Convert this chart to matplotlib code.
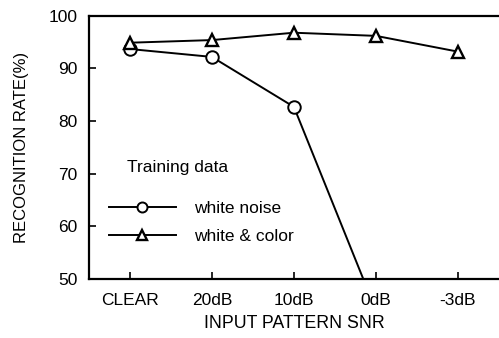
import matplotlib
matplotlib.use("Agg")
import matplotlib.pyplot as plt

plt.rcParams['font.family'] = ['Liberation Sans', 'DejaVu Sans']

snr_labels = ["CLEAR", "20dB", "10dB", "0dB", "-3dB"]
white_noise = [93.7, 92.2, 82.7, 44.0]
white_color = [94.9, 95.4, 96.8, 96.2, 93.2]
yticks = [50, 60, 70, 80, 90, 100]

fig = plt.figure(figsize=(4.99, 3.38), dpi=100)
ax = fig.add_axes([0.178, 0.175, 0.822, 0.778])

ax.plot(range(len(white_noise)), white_noise, color="black", lw=1.4,
        marker="o", ms=9, mfc="white", mec="black", mew=1.4, label="white noise")
ax.plot(range(len(white_color)), white_color, color="black", lw=1.4,
        marker="^", ms=9, mfc="white", mec="black", mew=1.7, label="white & color")

ax.set_xlim(-0.5, 4.5)
ax.set_ylim(50, 100)
ax.set_xticks(range(len(snr_labels)))
ax.set_xticklabels(snr_labels)
ax.set_yticks(yticks)

for s in ["left", "bottom", "top"]:
    ax.spines[s].set_linewidth(1.6)
ax.spines["right"].set_visible(False)
ax.tick_params(direction="in", length=5, width=1.2, labelsize=12.5, top=False, right=False)
ax.tick_params(axis="x", pad=10)
ax.tick_params(axis="y", pad=8)

ax.set_xlabel("INPUT PATTERN SNR", fontsize=12.8, labelpad=5)
ax.set_ylabel("RECOGNITION RATE(%)", fontsize=12, labelpad=14)

# legend (title placed separately, as in the original)
ax.text(0.093, 0.422, "Training data", transform=ax.transAxes, fontsize=12.5, va="center")
ax.legend(frameon=False, fontsize=12.5, loc="upper left", bbox_to_anchor=(0.049, 0.295),
          borderpad=0, borderaxespad=0, markerscale=0.8,
          handlelength=3.85, handletextpad=1.05, labelspacing=0.7)

fig.savefig("out.png", dpi=100)
